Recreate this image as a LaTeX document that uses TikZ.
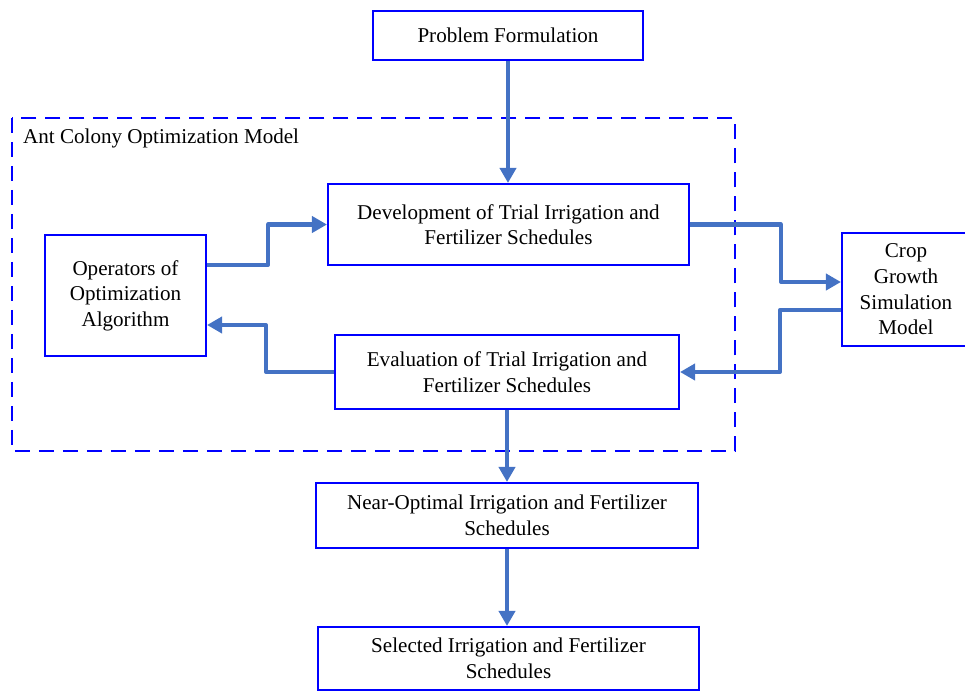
\documentclass[tikz,border=0pt]{standalone}
\usepackage{fontspec}
\setmainfont{Liberation Serif}
\usetikzlibrary{arrows.meta}

\begin{document}
\begin{tikzpicture}[x=0.02cm,y=-0.02cm,
		box/.style={draw=boxblue,line width=1.2pt,inner sep=0pt,align=center,
			font=\fontsize{12}{14.6}\selectfont},
		flow/.style={draw=flowblue,line width=2.3pt,line join=round,
			-{Triangle[length=0.3cm,width=0.32cm]}}]
		\definecolor{boxblue}{RGB}{0,0,255}
		\definecolor{flowblue}{RGB}{68,114,196}
		\useasboundingbox (0,0) rectangle (965,691);
		%
		\draw[boxblue,line width=1.2pt,dash pattern=on 0.3cm off 0.18cm] (12,118) rectangle (735,451);
		\node[anchor=west,font=\fontsize{12}{14.6}\selectfont] (aco) at (17,138) {Ant Colony Optimization Model};
		%
		\node[box,minimum width=5.4cm,minimum height=0.98cm] (prob) at (508,35.5) {Problem Formulation};
		\node[box,minimum width=7.22cm,minimum height=1.62cm] (dev) at (508.5,224.5) {Development of Trial Irrigation and\\Fertilizer Schedules};
		\node[box,minimum width=3.22cm,minimum height=2.42cm] (ops) at (125.5,295.5) {Operators of\\Optimization\\Algorithm};
		\node[box,minimum width=6.88cm,minimum height=1.48cm] (eval) at (507,372) {Evaluation of Trial Irrigation and\\Fertilizer Schedules};
		\node[box,minimum width=2.56cm,minimum height=2.26cm] (crop) at (906,289.5) {Crop\\Growth\\Simulation\\Model};
		\node[box,minimum width=7.64cm,minimum height=1.3cm] (near) at (507,515.5) {Near-Optimal Irrigation and Fertilizer\\Schedules};
		\node[box,minimum width=7.62cm,minimum height=1.26cm] (sel) at (508.5,658.5) {Selected Irrigation and Fertilizer\\Schedules};
		%
		\draw[flow] (prob.south) -- (prob.south |- dev.north);
		\draw[flow] ([yshift=0.61cm]ops.east) -- ++(61,0) |- (dev.west);
		\draw[flow] (eval.west) -- ++(-68,0) |- ([yshift=-0.59cm]ops.east);
		\draw[flow] (dev.east) -- ++(91,0) |- ([yshift=0.15cm]crop.west);
		\draw[flow] ([yshift=-0.41cm]crop.west) -- ++(-61,0) |- (eval.east);
		\draw[flow] (eval.south) -- (eval.south |- near.north);
		\draw[flow] (near.south) -- (near.south |- sel.north);
\end{tikzpicture}
\end{document}
